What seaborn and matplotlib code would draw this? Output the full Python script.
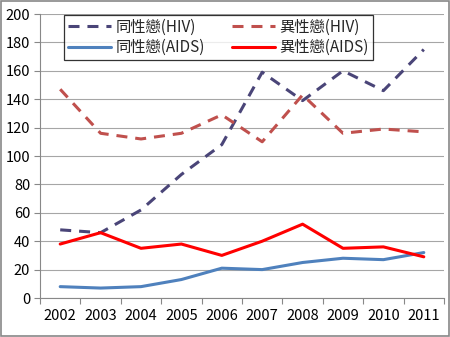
import matplotlib
matplotlib.use("Agg")
import matplotlib.pyplot as plt
import seaborn as sns
import pandas as pd
import numpy as np
from matplotlib.patches import Rectangle

years = ["2002", "2003", "2004", "2005", "2006", "2007", "2008", "2009", "2010", "2011"]
homo_hiv = [48, 46, 62, 87, 108, 159, 139, 160, 146, 175]
hetero_hiv = [147, 116, 112, 116, 129, 110, 143, 116, 119, 117]
homo_aids = [8, 7, 8, 13, 21, 20, 25, 28, 27, 32]
hetero_aids = [38, 46, 35, 38, 30, 40, 52, 35, 36, 29]
series_names = ["同性戀(HIV)", "異性戀(HIV)", "同性戀(AIDS)", "異性戀(AIDS)"]

sns.set_theme(style="white")
plt.rcParams['font.family'] = ['Noto Sans CJK TC', 'DejaVu Sans']

rows = []
for name, vals in zip(series_names, [homo_hiv, hetero_hiv, homo_aids, hetero_aids]):
    for i, v in enumerate(vals):
        rows.append({"idx": i, "value": v, "series": name})
df = pd.DataFrame(rows)

fig = plt.figure(figsize=(4.5, 3.37), dpi=100)
ax = fig.add_axes([40/450, 1-298/337, 404/450, 284/337])

palette = {"同性戀(HIV)": "#4A4578", "異性戀(HIV)": "#C0504D",
           "同性戀(AIDS)": "#4F81BD", "異性戀(AIDS)": "#FF0000"}
dashes = {"同性戀(HIV)": (3.6, 2.6), "異性戀(HIV)": (3.6, 2.6),
          "同性戀(AIDS)": "", "異性戀(AIDS)": ""}
sns.lineplot(data=df, x="idx", y="value", hue="series", style="series",
             palette=palette, dashes=dashes, hue_order=series_names,
             style_order=series_names, linewidth=2.2, ax=ax, legend=True)

ax.set_xlim(-0.5, 9.5)
ax.set_ylim(0, 200)
ax.set_yticks(range(0, 201, 20))
ax.set_xticks(range(10))
ax.set_xticklabels(years)
ax.set_xticks(np.arange(-0.5, 10, 1), minor=True)
ax.tick_params(axis='x', which='major', length=0, labelsize=10.5, pad=8, colors='black')
ax.tick_params(axis='x', which='minor', length=4, width=0.8, color='#888888', direction='out', bottom=True)
ax.tick_params(axis='y', length=4, width=0.8, color='#888888', direction='out', left=True, labelsize=10.5, pad=3)
ax.tick_params(axis='y', colors='#888888', labelcolor='black')
ax.yaxis.grid(True, color='#a6a6a6', linewidth=0.8)
ax.xaxis.grid(False)
for s in ["top", "right"]:
    ax.spines[s].set_visible(False)
for s in ["left", "bottom"]:
    ax.spines[s].set_color('#888888')
    ax.spines[s].set_linewidth(0.8)
ax.set_xlabel("")
ax.set_ylabel("")

handles, labels = ax.get_legend_handles_labels()
hmap = dict(zip(labels, handles))
order = [series_names[0], series_names[2], series_names[1], series_names[3]]
leg = ax.legend([hmap[n] for n in order], order, ncol=2, loc='upper left',
                bbox_to_anchor=((64-40)/404, (298-15)/284),
                frameon=True, fancybox=False, edgecolor='black', fontsize=11,
                handlelength=2.8, columnspacing=1.8, borderpad=0.25,
                labelspacing=0.2, handletextpad=0.3, borderaxespad=0)
leg.get_frame().set_linewidth(0.9)

fig.patches.append(Rectangle((0.002, 0.002), 0.996, 0.996, transform=fig.transFigure,
                             fill=False, edgecolor='#888888', linewidth=1.2))

fig.savefig("out.png", dpi=100)
